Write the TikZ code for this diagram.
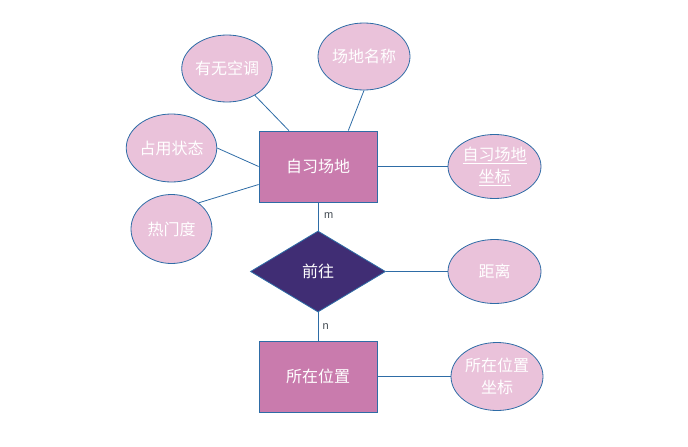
\documentclass[tikz,border=0pt]{standalone}
\usepackage{fontspec}
\setmainfont{Noto Sans CJK SC}
\setsansfont{Liberation Sans}
\usetikzlibrary{shapes.geometric,calc}
\definecolor{linec}{HTML}{2E6CA6}
\definecolor{rectc}{HTML}{C97BAD}
\definecolor{ellc}{HTML}{EAC2DA}
\definecolor{diac}{HTML}{402D74}
\definecolor{labc}{HTML}{404850}
\begin{document}
\begin{tikzpicture}[x=1pt,y=-1pt,
  ent/.style={rectangle,draw=linec,fill=rectc,line width=0.8pt,minimum width=118pt,minimum height=71pt,inner sep=0pt,text=white,font=\fontsize{16}{19}\selectfont},
  attr/.style={ellipse,draw=linec,fill=ellc,line width=0.8pt,inner sep=0pt,text=white,align=center,font=\fontsize{16}{22}\selectfont},
  rel/.style={diamond,draw=linec,fill=diac,line width=0.8pt,inner sep=0pt,minimum width=135pt,minimum height=81pt,text=white,font=\fontsize{16}{19}\selectfont},
  conn/.style={draw=linec,line width=0.8pt},
  card/.style={text=labc,font=\sffamily\fontsize{11}{13}\selectfont,anchor=west,inner sep=0pt}]
\useasboundingbox (0,0) rectangle (688,447);
\node[ent] (r1) at (318,166.5) {自习场地};
\node[ent] (r2) at (318,376.5) {所在位置};
\node[rel] (d) at (318,271.5) {前往};
\node[attr,minimum width=88pt,minimum height=67pt] (air) at (227,68.5) {有无空调};
\node[attr,minimum width=92pt,minimum height=67pt] (name) at (364,56.5) {场地名称};
\node[attr,minimum width=85pt,minimum height=68pt] (occ) at (171.5,148) {占用状态};
\node[attr,minimum width=81pt,minimum height=69pt] (hot) at (171.5,229) {热门度};
\node[attr,minimum width=93pt,minimum height=64pt] (c1) at (494.5,166.5) {\underline{自习场地}\\\underline{坐标}};
\node[attr,minimum width=93pt,minimum height=64pt] (dist) at (494.5,271.5) {距离};
\node[attr,minimum width=92pt,minimum height=68pt] (c2) at (497,376.5) {所在位置\\坐标};
\draw[conn] (air.-44) -- ($(r1.north west)!0.255!(r1.north east)$);
\draw[conn] (name.south) -- ($(r1.north west)!0.755!(r1.north east)$);
\draw[conn] (occ.east) -- (r1.west);
\draw[conn] (hot.44) -- ($(r1.west)+(0,18)$);
\draw[conn] (r1.east) -- (c1.west);
\draw[conn] (r1.south) -- (d.north);
\draw[conn] (d.south) -- (r2.north);
\draw[conn] (d.east) -- (dist.west);
\draw[conn] (r2.east) -- (c2.west);
\node[card] (m) at (324,216) {m};
\node[card] (n) at (322.5,327) {n};
\end{tikzpicture}
\end{document}
